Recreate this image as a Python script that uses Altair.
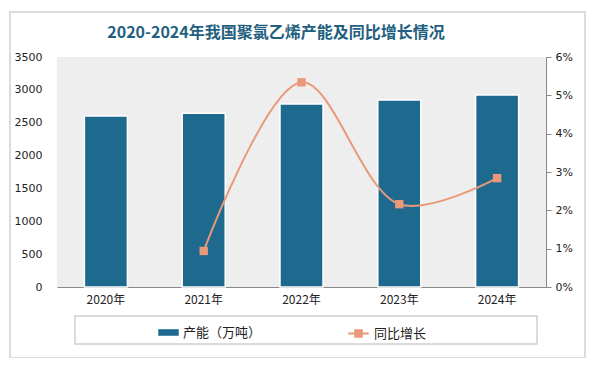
import altair as alt
import pandas as pd

title_text = "2020-2024年我国聚氯乙烯产能及同比增长情况"
years = ["2020年", "2021年", "2022年", "2023年", "2024年"]
capacity = [2602, 2645, 2785, 2846, 2922]
growth = [None, 0.0094, 0.0534, 0.0216, 0.0284]

bar_name = "产能（万吨）"
line_name = "同比增长"

df = pd.DataFrame({"year": years, "capacity": capacity, "growth": growth})
df["s1"] = bar_name
df["s2"] = line_name
dline = df.dropna(subset=["growth"])

BLUE = "#1d6a8e"
SALMON = "#e9997a"

x = alt.X("year:N", sort=years, title=None,
          scale=alt.Scale(paddingInner=0.56, paddingOuter=0.28),
          axis=alt.Axis(labelAngle=0, labelFontSize=12, labelColor="#222",
                        labelFont="Noto Sans CJK SC", labelPadding=7,
                        domainColor="#888", domainWidth=1.2, ticks=False))

bars = alt.Chart(df).mark_bar(stroke="white", strokeWidth=1.5).encode(
    x=x,
    y=alt.Y("capacity:Q", title=None,
            scale=alt.Scale(domain=[0, 3500]),
            axis=alt.Axis(values=[0, 500, 1000, 1500, 2000, 2500, 3000, 3500],
                          format="d",
                          grid=False, domain=False, ticks=False,
                          labelFontSize=11, labelColor="#222", labelPadding=15,
                          labelFont="DejaVu Sans")),
    fill=alt.Fill("s1:N", scale=alt.Scale(domain=[bar_name], range=[BLUE]),
                  legend=alt.Legend(title=None, orient="none", legendX=101, legendY=265,
                                    symbolType="M-1,-0.32L1,-0.32L1,0.32L-1,0.32Z",
                                    symbolSize=420, symbolStrokeWidth=0,
                                    labelFontSize=13, labelColor="#222",
                                    labelFont="Noto Sans CJK SC")),
)

line_y = alt.Y("growth:Q", title=None,
               scale=alt.Scale(domain=[0, 0.06]),
               axis=alt.Axis(orient="right", format=".0%",
                             values=[0, 0.01, 0.02, 0.03, 0.04, 0.05, 0.06],
                             grid=False, domainColor="#888", tickColor="#888",
                             tickSize=5, labelFontSize=11, labelColor="#222",
                             labelPadding=4, labelFont="DejaVu Sans"))

line = alt.Chart(dline).mark_line(interpolate="catmull-rom", strokeWidth=2).encode(
    x=alt.X("year:N", sort=years),
    y=line_y,
    stroke=alt.Stroke("s2:N", scale=alt.Scale(domain=[line_name], range=[SALMON]),
                      legend=alt.Legend(title=None, orient="none", legendX=290, legendY=265,
                                        symbolType="M-1,0L1,0M-0.32,-0.32L0.32,-0.32L0.32,0.32L-0.32,0.32Z",
                                        symbolSize=420, symbolStrokeWidth=2,
                                        symbolFillColor=SALMON,
                                        labelFontSize=13, labelColor="#222",
                                        labelFont="Noto Sans CJK SC")),
)

pts = alt.Chart(dline).mark_point(shape="square", filled=True, size=70, opacity=1,
                                  color=SALMON).encode(
    x=alt.X("year:N", sort=years),
    y=line_y,
)

one = pd.DataFrame({"t": [title_text]})
card = alt.Chart(one).mark_rect(fill=None, stroke="#dcdcdc", strokeWidth=2).encode(
    x=alt.value(-47), x2=alt.value(528), y=alt.value(-45), y2=alt.value(301))

legend_box = alt.Chart(one).mark_rect(
    fill=None, stroke="#d0d0d0", strokeWidth=1.5).encode(
    x=alt.value(18), x2=alt.value(480), y=alt.value(259), y2=alt.value(287))

title = alt.Chart(one).mark_text(
    font="Noto Sans CJK SC", fontSize=16, fontWeight="bold", color="#1f5f7f",
    align="center", baseline="middle").encode(
    text="t:N", x=alt.value(219), y=alt.value(-24))

chart = alt.layer(card, bars, alt.layer(line, pts), legend_box, title).resolve_scale(
    y="independent", fill="independent", stroke="independent"
).properties(
    width=489, height=230,
    autosize=alt.AutoSizeParams(type="none"),
    padding={"left": 49, "top": 49, "right": 40, "bottom": 71},
    background="white",
).configure_view(fill="#eeeeee", stroke=None)

chart.save("out.html", embed_options={"renderer": "svg", "actions": False})
